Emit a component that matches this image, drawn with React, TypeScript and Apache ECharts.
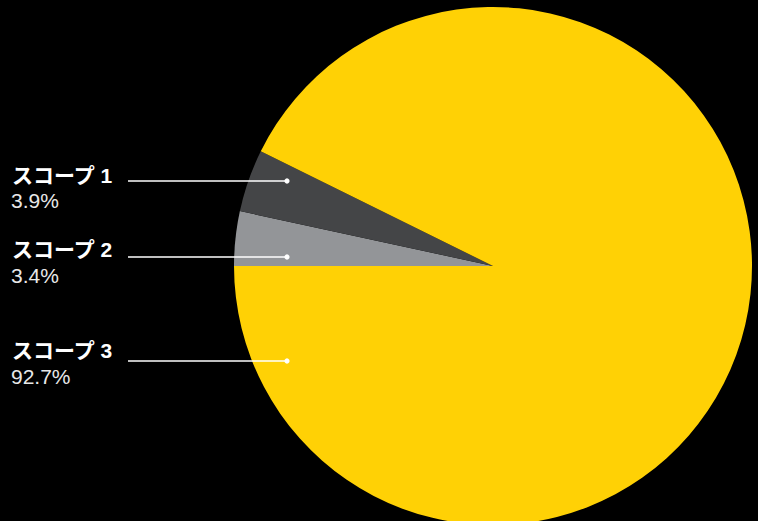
import React, { useEffect, useRef } from "react";
import * as echarts from "echarts";

const categories = ["スコープ 2", "スコープ 1", "スコープ 3"];
const values = [3.4, 3.9, 92.7];
const sliceColors = ["#939598", "#444547", "#FFD105"];

// label order on the left (top to bottom)
const labelNames = ["スコープ 1", "スコープ 2", "スコープ 3"];
const labelValues = ["3.9%", "3.4%", "92.7%"];

// layout (not data)
const labelLayout = [
  { titleY: 174, pctY: 199, lineY: 181 },
  { titleY: 248, pctY: 274, lineY: 257 },
  { titleY: 349, pctY: 375, lineY: 361 },
];

export default function App() {
  const ref = useRef<HTMLDivElement>(null);
  useEffect(() => {
    if (!ref.current) return;
    const chart = echarts.init(ref.current, null, { renderer: "svg" });
    const graphics: any[] = [];
    labelNames.forEach((n, i) => {
      const L = labelLayout[i];
      graphics.push({
        type: "text",
        x: 12,
        y: L.titleY + 1,
        z: 10,
        style: {
          text: n,
          fill: "#ffffff",
          verticalAlign: "middle",
          font: "bold 21px 'Liberation Sans', 'Noto Sans CJK JP', sans-serif",
        },
      });
      graphics.push({
        type: "text",
        x: 11,
        y: L.pctY + 1,
        z: 10,
        style: {
          text: labelValues[i],
          fill: "#e8e8e8",
          verticalAlign: "middle",
          font: "21px 'Liberation Sans', 'Noto Sans CJK JP', sans-serif",
        },
      });
      graphics.push({
        type: "line",
        z: 10,
        shape: { x1: 128, y1: L.lineY, x2: 287, y2: L.lineY },
        style: { stroke: "#ffffff", lineWidth: 1.3 },
      });
      graphics.push({
        type: "circle",
        z: 10,
        shape: { cx: 287, cy: L.lineY, r: 2.6 },
        style: { fill: "#ffffff" },
      });
    });
    chart.setOption({
      animation: false,
      backgroundColor: "#000000",
      series: [
        {
          type: "pie",
          center: [493, 266],
          radius: [0, 259],
          startAngle: 180,
          clockwise: true,
          label: { show: false },
          labelLine: { show: false },
          emphasis: { disabled: true },
          itemStyle: { borderWidth: 0 },
          data: categories.map((c, i) => ({
            name: c,
            value: values[i],
            itemStyle: { color: sliceColors[i] },
          })),
        },
      ],
      graphic: graphics,
    });
    return () => chart.dispose();
  }, []);
  return (
    <div
      ref={ref}
      style={{ position: "fixed", left: 0, top: 0, width: 758, height: 521, background: "#000" }}
    />
  );
}
